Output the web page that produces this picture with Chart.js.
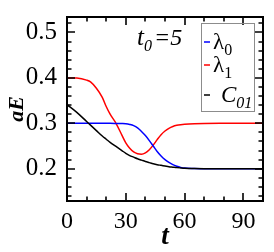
<!DOCTYPE html>
<html>
<head>
<meta charset="utf-8">
<script src="https://cdn.jsdelivr.net/npm/chart.js@4.4.1/dist/chart.umd.min.js"></script>
<style>
  html, body { margin: 0; padding: 0; background: #fff; }
  #wrap { position: relative; width: 274px; height: 252px; }
</style>
</head>
<body>
<div id="wrap"><canvas id="grafico" width="274" height="252"></canvas></div>
<script>
  // tempo t
  const tempo = [0, 5, 10, 12, 15, 18, 20, 22, 25, 28, 30, 32, 34, 36, 38, 40, 42, 44, 46, 48,
                 50, 52, 54, 56, 58, 60, 65, 70, 80, 90, 100];
  const lambda0 = [0.300, 0.300, 0.300, 0.300, 0.300, 0.300, 0.300, 0.300, 0.2998, 0.2995, 0.299, 0.2975, 0.295, 0.290, 0.282, 0.273, 0.262, 0.250, 0.238, 0.228,
                   0.220, 0.214, 0.209, 0.2055, 0.203, 0.2015, 0.2005, 0.200, 0.200, 0.200, 0.200];
  const lambda1 = [0.400, 0.3995, 0.395, 0.391, 0.377, 0.357, 0.337, 0.320, 0.300, 0.274, 0.257, 0.245, 0.237, 0.233, 0.232, 0.235, 0.242, 0.252, 0.264, 0.275,
                   0.283, 0.289, 0.293, 0.2955, 0.297, 0.298, 0.2993, 0.2998, 0.300, 0.300, 0.300];
  const c01 = [0.341, 0.324, 0.304, 0.296, 0.284, 0.272, 0.265, 0.258, 0.249, 0.240, 0.234, 0.229, 0.2255, 0.222, 0.219, 0.216, 0.2135, 0.211, 0.209, 0.2075,
               0.206, 0.2045, 0.2035, 0.2025, 0.2018, 0.2012, 0.2005, 0.2002, 0.200, 0.200, 0.200];

  const nomes = ['λ', 'λ', 'C'];
  const indices = ['0', '1', '01'];
  const cores = ['#0000ff', '#ff0000', '#000000'];
  const xRotulos = [0, 30, 60, 90];
  const yRotulos = [0.2, 0.3, 0.4, 0.5];

  const serif = '"Liberation Serif", serif';
  Chart.defaults.font.family = serif;

  function pares(ys) {
    return tempo.map((t, i) => ({x: t, y: ys[i]}));
  }

  // moldura com ticks para dentro + legenda + anotação
  const moldura = {
    id: 'moldura',
    afterDatasetsDraw(chart) {
      const {ctx, chartArea: a, scales: {x, y}} = chart;
      ctx.save();
      ctx.strokeStyle = '#000';
      ctx.lineWidth = 1.6;
      ctx.beginPath();
      for (let t = 0; t <= 100; t += 10) {
        const px = Math.round(x.getPixelForValue(t));
        const len = xRotulos.includes(t) ? 8 : 4.5;
        ctx.moveTo(px, a.bottom); ctx.lineTo(px, a.bottom - len);
        ctx.moveTo(px, a.top); ctx.lineTo(px, a.top + len);
      }
      for (let k = 14; k <= 52; k += 2) {
        const py = Math.round(y.getPixelForValue(k / 100));
        const len = k % 10 === 0 ? 8 : 4.5;
        ctx.moveTo(a.left, py); ctx.lineTo(a.left + len, py);
        ctx.moveTo(a.right, py); ctx.lineTo(a.right - len, py);
      }
      ctx.stroke();
      ctx.lineWidth = 2;
      ctx.strokeRect(a.left, a.top, a.right - a.left, a.bottom - a.top);

      // legenda
      ctx.lineWidth = 1;
      ctx.strokeStyle = '#8c8c8c';
      ctx.strokeRect(201.5, 23.5, 53, 88);
      const bases = [49, 72, 102];
      nomes.forEach((n, i) => {
        const b = bases[i];
        ctx.strokeStyle = cores[i];
        ctx.lineWidth = 1.5;
        ctx.beginPath();
        ctx.moveTo(204, b - 7); ctx.lineTo(210, b - 7);
        ctx.stroke();
        ctx.fillStyle = '#000';
        ctx.textBaseline = 'alphabetic';
        ctx.textAlign = 'left';
        const italico = i === 2 ? 'italic ' : '';
        ctx.font = italico + '23px ' + serif;
        const x0 = i === 2 ? 221 : 213;
        ctx.fillText(n, x0, b);
        const w = ctx.measureText(n).width;
        ctx.font = italico + '16px ' + serif;
        ctx.fillText(indices[i], x0 + w, b + 6);
      });

      // t0=5
      ctx.fillStyle = '#000';
      ctx.font = 'italic 25px ' + serif;
      ctx.fillText('t', 137, 45);
      ctx.font = 'italic 16px ' + serif;
      ctx.fillText('0', 144, 51);
      ctx.font = 'italic 24px ' + serif;
      ctx.fillText('=5', 154, 45);
      ctx.restore();
    }
  };

  new Chart(document.getElementById('grafico'), {
    type: 'line',
    data: {
      datasets: [
        {label: 'λ0', data: pares(lambda0), borderColor: cores[0], order: 1},
        {label: 'λ1', data: pares(lambda1), borderColor: cores[1], order: 2},
        {label: 'C01', data: pares(c01), borderColor: cores[2], order: 0}
      ]
    },
    options: {
      responsive: false,
      animation: false,
      devicePixelRatio: 1,
      layout: {padding: {left: 0, right: 11, top: 9, bottom: 0}},
      elements: {
        point: {radius: 0},
        line: {borderWidth: 1.5, cubicInterpolationMode: 'monotone', fill: false}
      },
      plugins: {legend: {display: false}, tooltip: {enabled: false}},
      scales: {
        x: {
          type: 'linear',
          min: 0,
          max: 100,
          grid: {display: false},
          border: {display: false},
          ticks: {
            stepSize: 30,
            includeBounds: false,
            padding: 1,
            color: '#000',
            font: {family: serif, size: 24, lineHeight: 1},
            callback: v => xRotulos.includes(v) ? String(v) : ''
          },
          title: {
            display: true,
            text: 't',
            color: '#000',
            padding: 0,
            font: {family: serif, size: 27, style: 'italic', weight: 'bold', lineHeight: 1.1}
          },
          afterFit: s => { s.height = 51; }
        },
        y: {
          min: 0.129,
          max: 0.534,
          grid: {display: false},
          border: {display: false},
          ticks: {
            stepSize: 0.1,
            includeBounds: false,
            padding: 2,
            color: '#000',
            font: {family: serif, size: 25},
            callback: v => yRotulos.some(r => Math.abs(r - v) < 1e-6) ? v.toFixed(1) : ''
          },
          title: {
            display: true,
            text: 'aE',
            color: '#000',
            padding: 0,
            font: {family: serif, size: 22, style: 'italic', weight: 'bold', lineHeight: 1.6}
          },
          afterFit: s => { s.width = 67; }
        }
      }
    },
    plugins: [moldura]
  });
</script>
</body>
</html>
